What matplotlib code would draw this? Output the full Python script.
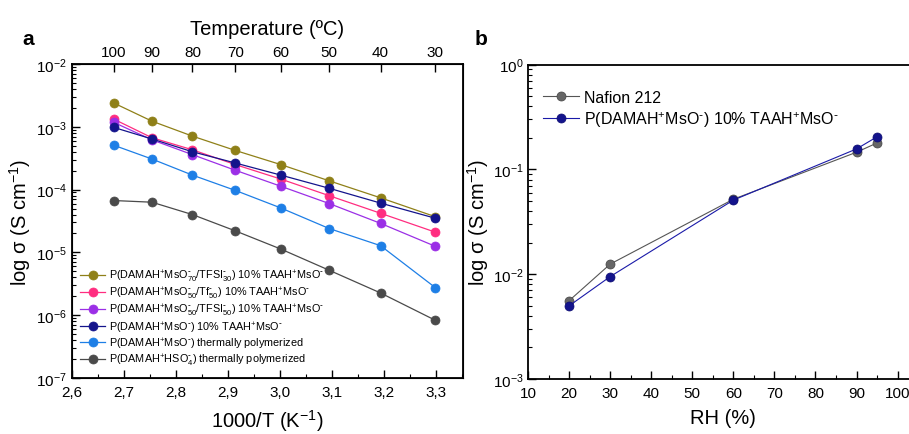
import numpy as np
import matplotlib

matplotlib.use("Agg")
import matplotlib.pyplot as plt
from matplotlib.ticker import FixedLocator, FuncFormatter, LogLocator, NullFormatter

plt.rcParams["font.family"] = ["Liberation Sans", "DejaVu Sans"]
plt.rcParams["mathtext.default"] = "regular"

# Panel a: conductivity vs temperature
temps_c = [100, 90, 80, 70, 60, 50, 40, 30]
inv_t = [1000.0 / (t + 273.15) for t in temps_c]

sig_msO70_tfsi30 = [2.4e-3, 1.23e-3, 7.1e-4, 4.2e-4, 2.5e-4, 1.38e-4, 7.4e-5, 3.7e-5]
sig_msO50_tf50 = [1.33e-3, 6.7e-4, 4.3e-4, 2.5e-4, 1.47e-4, 8.0e-5, 4.2e-5, 2.1e-5]
sig_msO50_tfsi50 = [1.18e-3, 6.2e-4, 3.6e-4, 2.03e-4, 1.13e-4, 6.0e-5, 2.9e-5, 1.25e-5]
sig_msO_taah = [9.8e-4, 6.4e-4, 4.0e-4, 2.65e-4, 1.7e-4, 1.05e-4, 6.1e-5, 3.5e-5]
sig_msO_thermal = [5.1e-4, 3.07e-4, 1.7e-4, 9.7e-5, 5.1e-5, 2.4e-5, 1.28e-5, 2.75e-6]
sig_hso4_thermal = [6.7e-5, 6.3e-5, 4.0e-5, 2.2e-5, 1.13e-5, 5.2e-6, 2.26e-6, 8.3e-7]

m = r"\text{-}"
labels_a = [
    rf"P(DAMAH$^{{+}}$MsO$^{{{m}}}_{{70}}$/TFSI$^{{{m}}}_{{30}}$) 10% TAAH$^{{+}}$MsO$^{{{m}}}$",
    rf"P(DAMAH$^{{+}}$MsO$^{{{m}}}_{{50}}$/Tf$^{{{m}}}_{{50}}$) 10% TAAH$^{{+}}$MsO$^{{{m}}}$",
    rf"P(DAMAH$^{{+}}$MsO$^{{{m}}}_{{50}}$/TFSI$^{{{m}}}_{{50}}$) 10% TAAH$^{{+}}$MsO$^{{{m}}}$",
    rf"P(DAMAH$^{{+}}$MsO$^{{{m}}}$) 10% TAAH$^{{+}}$MsO$^{{{m}}}$",
    rf"P(DAMAH$^{{+}}$MsO$^{{{m}}}$) thermally polymerized",
    rf"P(DAMAH$^{{+}}$HSO$_{{4}}^{{{m}}}$) thermally polymerized",
]
series_a = [sig_msO70_tfsi30, sig_msO50_tf50, sig_msO50_tfsi50,
            sig_msO_taah, sig_msO_thermal, sig_hso4_thermal]
colors_a = ["#8f8018", "#ff2d80", "#9b2fe6", "#14148c", "#1e7fe6", "#4a4a4a"]

# Panel b: conductivity vs relative humidity
rh = [20, 30, 60, 90, 95]
sig_nafion = [5.6e-3, 1.25e-2, 5.2e-2, 0.146, 0.179]
sig_taah = [5.0e-3, 9.5e-3, 5.1e-2, 0.157, 0.205]

fig = plt.figure(figsize=(9.09, 4.35), dpi=100)
ax1 = fig.add_axes([0.0792, 0.1287, 0.4302, 0.7219])
ax2 = fig.add_axes([0.581, 0.1264, 0.429, 0.7226])

for ys, lab, col in zip(series_a, labels_a, colors_a):
    ax1.plot(inv_t, ys, "-o", color=col, lw=0.9, ms=6.5, mfc=col,
             mec=col, mew=0.5, label=lab)

ax1.set_yscale("log")
ax1.set_ylim(1e-7, 1e-2)
ax1.set_xlim(2.6, 3.352)
ax1.xaxis.set_major_locator(FixedLocator(np.arange(2.6, 3.31, 0.1)))
ax1.xaxis.set_minor_locator(FixedLocator(np.arange(2.65, 3.35, 0.1)))
ax1.xaxis.set_major_formatter(FuncFormatter(lambda v, p: f"{v:.1f}".replace(".", ",")))
ax1.yaxis.set_major_locator(LogLocator(base=10, numticks=10))
ax1.yaxis.set_minor_locator(LogLocator(base=10, subs=np.arange(2, 10), numticks=20))
ax1.yaxis.set_minor_formatter(NullFormatter())
ax1.tick_params(which="both", direction="in", labelsize=11, top=False, right=False)
ax1.tick_params(which="major", length=6, width=1)
ax1.tick_params(which="minor", length=3, width=0.8)
ax1.tick_params(axis="x", pad=5)
ax1.set_xlabel("1000/T (K$^{-1}$)", fontsize=14.5, labelpad=6)
ax1.set_ylabel(r"log σ (S cm$^{-1}$)", fontsize=14.5, labelpad=2)
for s in ax1.spines.values():
    s.set_linewidth(1.3)

top = ax1.twiny()
top.set_xlim(ax1.get_xlim())
top.set_xticks(inv_t)
top.set_xticklabels([str(t) for t in temps_c])
top.tick_params(direction="in", length=6, width=1, labelsize=11)
top.set_xlabel("Temperature (ºC)", fontsize=14.5, labelpad=8)

ax1.legend(loc="lower left", bbox_to_anchor=(0.005, 0.012), frameon=False,
           fontsize=7.8, handlelength=2.3, handletextpad=0.3,
           labelspacing=0.08, borderaxespad=0.2)

ax2.plot(rh, sig_nafion, "-o", color="#555555", lw=0.8, ms=6.5, mfc="#666666",
         mec="#444444", mew=0.5, label="Nafion 212")
ax2.plot(rh, sig_taah, "-o", color="#1a1aa8", lw=0.8, ms=6.5, mfc="#14148c",
         mec="#0c0c70", mew=0.5,
         label=rf"P(DAMAH$^{{+}}$MsO$^{{{m}}}$) 10% TAAH$^{{+}}$MsO$^{{{m}}}$")
ax2.set_yscale("log")
ax2.set_ylim(1e-3, 1)
ax2.set_xlim(10, 105)
ax2.set_xticks(np.arange(10, 101, 10))
ax2.xaxis.set_minor_locator(FixedLocator(np.arange(15, 105, 10)))
ax2.yaxis.set_minor_locator(LogLocator(base=10, subs=np.arange(2, 10), numticks=20))
ax2.yaxis.set_minor_formatter(NullFormatter())
ax2.tick_params(which="both", direction="in", labelsize=11, top=False, right=False)
ax2.tick_params(which="major", length=6, width=1)
ax2.tick_params(which="minor", length=3, width=0.8)
ax2.tick_params(axis="x", pad=5)
ax2.set_xlabel("RH (%)", fontsize=14.5, labelpad=6)
ax2.set_ylabel(r"log σ (S cm$^{-1}$)", fontsize=14.5, labelpad=1)
for s in ax2.spines.values():
    s.set_linewidth(1.3)
ax2.legend(loc="upper left", bbox_to_anchor=(0.0, 0.965), frameon=False,
           fontsize=11.5, handlelength=2.3, handletextpad=0.3, labelspacing=0.25)

fig.text(0.025, 0.91, "a", fontsize=15, fontweight="bold", va="center")
fig.text(0.522, 0.91, "b", fontsize=15, fontweight="bold", va="center")

fig.savefig("out.png", dpi=100)
